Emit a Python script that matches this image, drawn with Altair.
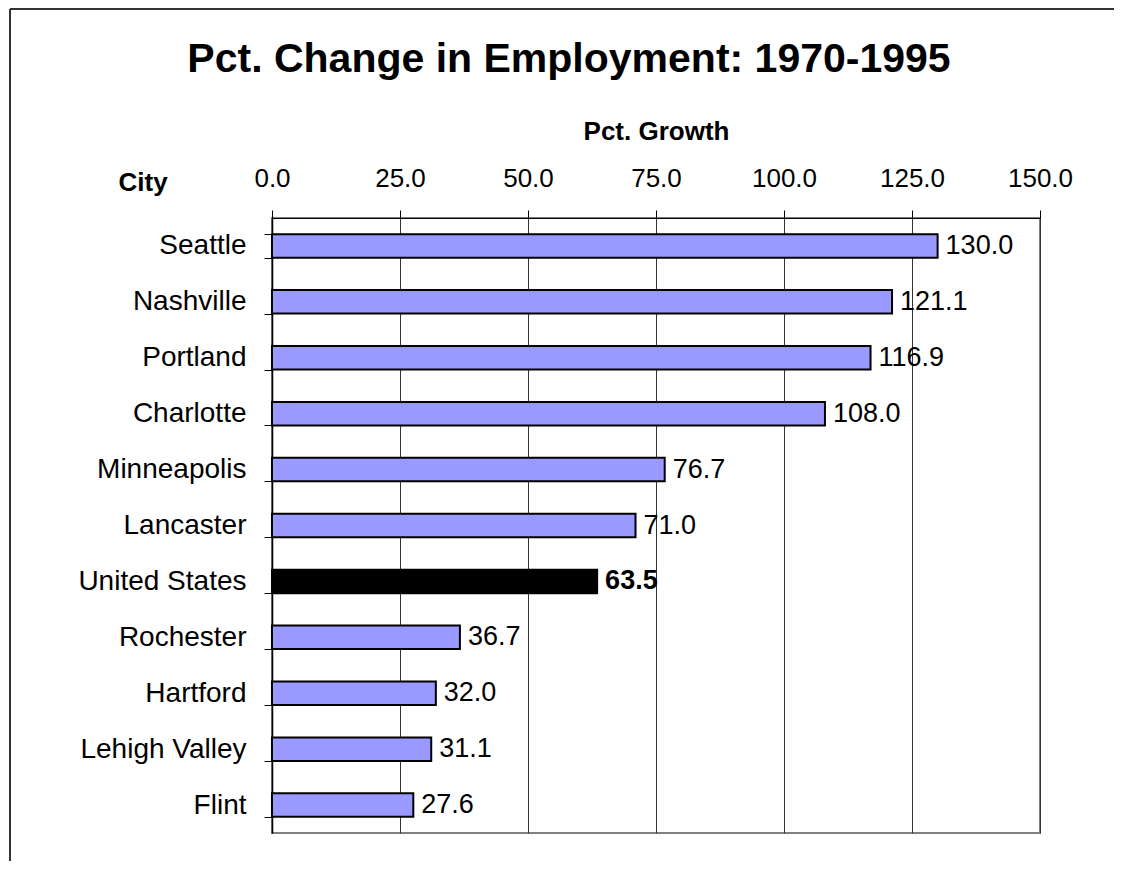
import altair as alt
import pandas as pd

cities = ["Seattle", "Nashville", "Portland", "Charlotte", "Minneapolis", "Lancaster",
          "United States", "Rochester", "Hartford", "Lehigh Valley", "Flint"]
growth = [130.0, 121.1, 116.9, 108.0, 76.7, 71.0, 63.5, 36.7, 32.0, 31.1, 27.6]
x_ticks = [0, 25, 50, 75, 100, 125, 150]

df = pd.DataFrame({"City": cities, "Growth": growth})

FONT = "Liberation Sans"

x_enc = alt.X(
    "Growth:Q",
    scale=alt.Scale(domain=[0, 150], nice=False, zero=True),
    axis=alt.Axis(
        orient="top", values=x_ticks, format=".1f", title="Pct. Growth",
        titleFont=FONT, titleFontSize=26, titleFontWeight="bold", titleColor="black",
        titleX=384, titleY=-79, titleAlign="center", titleBaseline="alphabetic",
        labelFont=FONT, labelFontSize=26, labelColor="black", labelBaseline="alphabetic",
        labelPadding=24, tickSize=8, tickColor="black", tickWidth=1,
        domainColor="black", domainWidth=1,
        grid=True, gridColor="#333333", gridWidth=1, labelFlush=False,
    ),
)
y_enc = alt.Y(
    "City:N", sort=cities,
    scale=alt.Scale(paddingInner=0.58, paddingOuter=0.29),
    axis=alt.Axis(
        title="City", titleAngle=0, titleFont=FONT, titleFontSize=26,
        titleFontWeight="bold", titleColor="black", titleAlign="left",
        titleBaseline="alphabetic", titleX=-154, titleY=-28,
        labelFont=FONT, labelFontSize=28, labelColor="black", labelPadding=18,
        tickSize=8, tickColor="black", tickWidth=1, tickBand="extent",
        domainColor="black", domainWidth=1.5, grid=False,
    ),
)

bars = alt.Chart(df).mark_bar(stroke="black", strokeWidth=2).encode(
    x=x_enc, y=y_enc,
    fill=alt.condition(alt.datum.City == "United States", alt.value("black"), alt.value("#9999FF")),
)

labels_normal = alt.Chart(df).transform_filter(alt.datum.City != "United States").mark_text(
    align="left", baseline="middle", dx=8, font=FONT, fontSize=27, color="black"
).encode(x="Growth:Q", y=alt.Y("City:N", sort=cities), text=alt.Text("Growth:Q", format=".1f"))

labels_us = alt.Chart(df).transform_filter(alt.datum.City == "United States").mark_text(
    align="left", baseline="middle", dx=8, font=FONT, fontSize=27, fontWeight="bold", color="black"
).encode(x="Growth:Q", y=alt.Y("City:N", sort=cities), text=alt.Text("Growth:Q", format=".1f"))

frame_src = alt.Data(values=[{"k": 1}])
frame_left = alt.Chart(frame_src).mark_rule(color="#333333", strokeWidth=2).encode(
    x=alt.value(-262), y=alt.value(-209), y2=alt.value(700)
)
frame_top = alt.Chart(frame_src).mark_rule(color="#333333", strokeWidth=2).encode(
    x=alt.value(-262), x2=alt.value(900), y=alt.value(-209)
)

chart = alt.layer(bars, labels_normal, labels_us, frame_left, frame_top).properties(
    width=768, height=615,
    title=alt.TitleParams(
        "Pct. Change in Employment: 1970-1995", font=FONT, fontSize=41,
        fontWeight="bold", color="black", anchor="middle", dx=-87, dy=105,
        offset=0, baseline="alphabetic",
    ),
    autosize=alt.AutoSizeParams(type="none"),
    padding={"left": 264, "top": 210, "right": 74, "bottom": 28},
).configure(background="white").configure_view(stroke="#808080", strokeWidth=2)

chart.save("out.html", embed_options={"renderer": "svg", "actions": False})
